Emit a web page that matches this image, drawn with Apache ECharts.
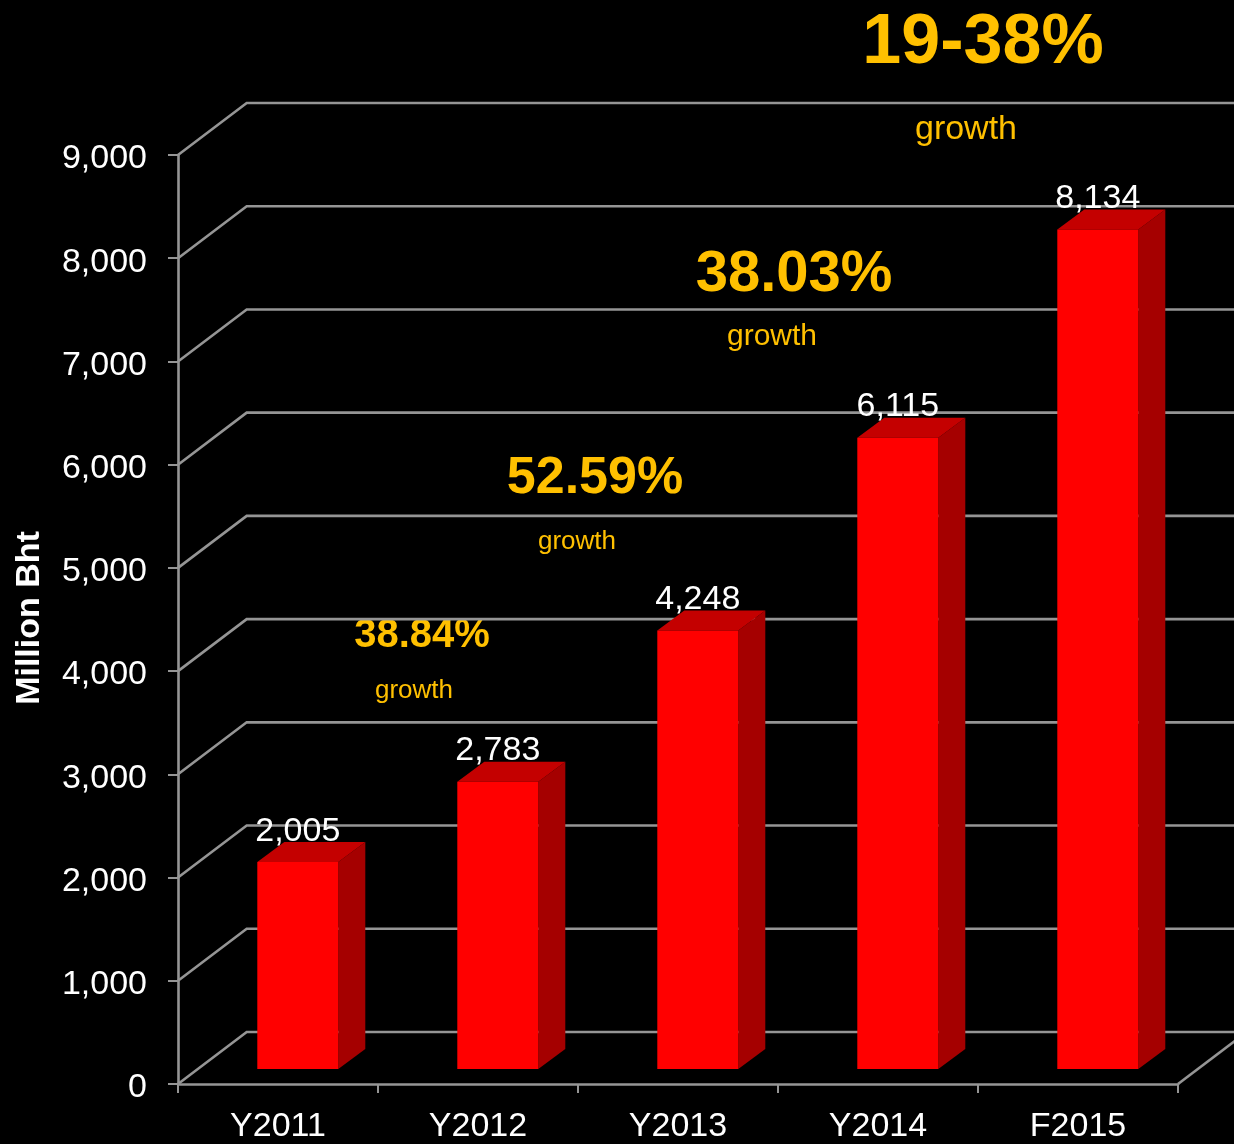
<!DOCTYPE html>
<html>
<head>
<meta charset="utf-8">
<title>Million Bht</title>
<style>
  html, body { margin: 0; padding: 0; background: #000; }
  #chart { width: 1234px; height: 1144px; }
</style>
<script src="https://cdn.jsdelivr.net/npm/echarts@6/dist/echarts.min.js"></script>
</head>
<body>
<div id="chart"></div>
<script>
// Revenue by year, million baht
const years = ['Y2011', 'Y2012', 'Y2013', 'Y2014', 'F2015'];
const revenue = [2005, 2783, 4248, 6115, 8134];
const valueLabels = ['2,005', '2,783', '4,248', '6,115', '8,134'];

// Growth call-outs between the bars
const growthPct = ['38.84%', '52.59%', '38.03%', '19-38%'];
const growthWord = 'growth';

// Back-wall levels of the value axis
const wallLevels = [0, 1000, 2000, 3000, 4000, 5000, 6000, 7000, 8000, 9000];
const yMax = 9000;
const yStep = 1000;

const FONT = '"Liberation Sans", Arial, sans-serif';
const GOLD = '#FFC000';
const GRID_GRAY = '#959595';
const GRID_W = 2.6;

// Perspective offsets (pixels) for the pseudo-3D box
const WALL_DX = 68.7, WALL_DY = -52;   // floor depth to the back wall
const BAR_FX = 19.8, BAR_FY = -15;     // bar front face set into the floor
const BAR_SX = 27, BAR_SY = -20;       // bar thickness
const BAR_W_RATIO = 0.405;

const chart = echarts.init(document.getElementById('chart'), null, { renderer: 'canvas' });

function renderWall(params, api) {
  const cs = params.coordSys;
  const v = api.value(1);
  const y = api.coord([0, v])[1];
  const x0 = cs.x;
  const children = [{
    type: 'polyline',
    shape: { points: [[x0, y], [x0 + WALL_DX, y + WALL_DY], [x0 + WALL_DX + cs.width + 100, y + WALL_DY]] },
    style: { stroke: GRID_GRAY, lineWidth: GRID_W, fill: null }
  }];
  if (v === 0) {
    const xr = cs.x + cs.width;
    children.push({
      type: 'line',
      shape: { x1: xr, y1: y, x2: xr + WALL_DX, y2: y + WALL_DY },
      style: { stroke: GRID_GRAY, lineWidth: GRID_W }
    });
  }
  return { type: 'group', children };
}

function renderBar(params, api) {
  const idx = api.value(0);
  const val = api.value(1);
  const top = api.coord([idx, val]);
  const base = api.coord([idx, 0]);
  const band = api.size([1, 0])[0];
  const w = band * BAR_W_RATIO;
  const xl = top[0] + BAR_FX - w / 2;
  const xr = xl + w;
  const yt = top[1] + BAR_FY;
  const yb = base[1] + BAR_FY;
  const label = valueLabels[params.dataIndex];
  return {
    type: 'group',
    children: [
      { // side face
        type: 'polygon',
        shape: { points: [[xr, yt], [xr + BAR_SX, yt + BAR_SY], [xr + BAR_SX, yb + BAR_SY], [xr, yb]] },
        style: { fill: '#A50000' }
      },
      { // top face
        type: 'polygon',
        shape: { points: [[xl, yt], [xl + BAR_SX, yt + BAR_SY], [xr + BAR_SX, yt + BAR_SY], [xr, yt]] },
        style: { fill: '#C40000' }
      },
      { // front face
        type: 'rect',
        shape: { x: xl, y: yt, width: w, height: yb - yt },
        style: { fill: '#FF0000' }
      },
      {
        type: 'text',
        style: {
          text: label,
          x: (xl + xr) / 2,
          y: yt + BAR_SY + 1 - 0.3465 * 34,
          fill: '#ffffff',
          font: '34px ' + FONT,
          align: 'center', verticalAlign: 'middle',
          textAlign: 'center', textVerticalAlign: 'middle'
        }
      }
    ]
  };
}

function calloutText(text, cx, cy, size, bold) {
  return {
    type: 'text',
    x: cx, y: cy,
    style: {
      text: text,
      fill: GOLD,
      font: (bold ? 'bold ' : '') + size + 'px ' + FONT,
      align: 'center', verticalAlign: 'middle',
      textAlign: 'center', textVerticalAlign: 'middle'
    }
  };
}

const option = {
  backgroundColor: '#000000',
  animation: false,
  grid: { left: 178, right: 56, top: 155, bottom: 60, containLabel: false },
  xAxis: {
    type: 'category',
    data: years,
    boundaryGap: true,
    axisLine: { lineStyle: { color: GRID_GRAY, width: GRID_W } },
    axisTick: { show: true, length: 9, lineStyle: { color: GRID_GRAY, width: 2 } },
    axisLabel: { color: '#ffffff', fontSize: 34, fontFamily: FONT, margin: 26 },
    splitLine: { show: false }
  },
  yAxis: {
    type: 'value',
    min: 0, max: yMax, interval: yStep,
    axisLine: { show: true, lineStyle: { color: GRID_GRAY, width: GRID_W } },
    axisTick: { show: true, length: 10, lineStyle: { color: GRID_GRAY, width: 2 } },
    axisLabel: {
      margin: 31,
      formatter: v => '{t|' + v.toLocaleString('en-US') + '}',
      rich: {
        t: { color: '#ffffff', fontSize: 34, fontFamily: FONT, padding: [8, 0, 0, 0] }
      }
    },
    splitLine: { show: false }
  },
  series: [
    {
      type: 'custom',
      name: 'wall',
      z: 1,
      silent: true,
      renderItem: renderWall,
      data: wallLevels.map(v => [0, v])
    },
    {
      type: 'custom',
      name: 'Million Bht',
      z: 3,
      renderItem: renderBar,
      data: revenue.map((v, i) => [i, v])
    }
  ],
  graphic: [
    {
      type: 'text',
      x: 30, y: 618,
      rotation: Math.PI / 2,
      style: {
        text: 'Million Bht',
        fill: '#ffffff',
        font: 'bold 34px ' + FONT,
        align: 'center', verticalAlign: 'middle',
        textAlign: 'center', textVerticalAlign: 'middle'
      }
    },
    calloutText(growthPct[0], 422, 636, 40, true),
    calloutText(growthWord, 414, 691, 26, false),
    calloutText(growthPct[1], 595, 479, 52, true),
    calloutText(growthWord, 577, 542, 26, false),
    calloutText(growthPct[2], 794, 275, 58, true),
    calloutText(growthWord, 772, 337, 30, false),
    calloutText(growthPct[3], 983, 44, 70, true),
    calloutText(growthWord, 966, 130, 34, false)
  ]
};

chart.setOption(option);
</script>
</body>
</html>
